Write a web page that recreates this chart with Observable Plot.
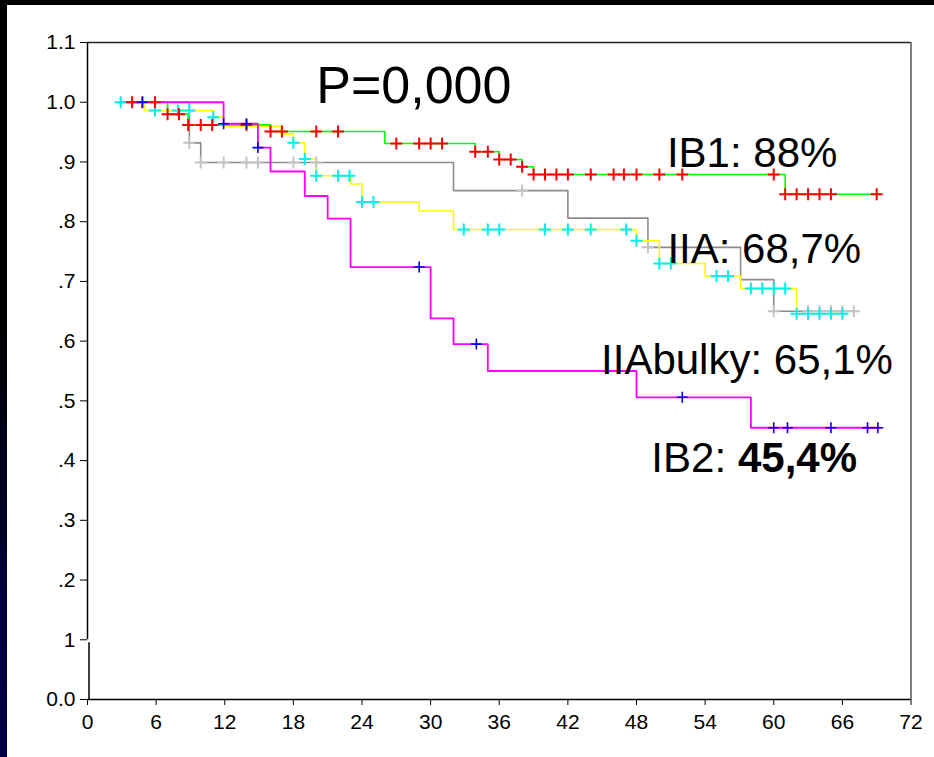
<!DOCTYPE html>
<html>
<head>
<meta charset="utf-8">
<script src="https://cdn.jsdelivr.net/npm/d3@7"></script>
<script src="https://cdn.jsdelivr.net/npm/@observablehq/plot@0.6"></script>
<style>
  html, body { margin: 0; padding: 0; background: #fff; }
  #wrap { position: relative; width: 934px; height: 757px; overflow: hidden; background: #fff; }
  #chart { position: absolute; left: 0; top: 0; }
  #topbar { position: absolute; left: 0; top: 0; width: 934px; height: 5px; background: #000; }
  #leftbar { position: absolute; left: 0; top: 0; width: 7px; height: 757px;
    background: linear-gradient(to bottom, #000 0%, #000 42%, #00003c 80%, #000048 100%); }
</style>
</head>
<body>
<div id="wrap"><div id="chart"></div><div id="topbar"></div><div id="leftbar"></div></div>
<script>
// ---- axis ticks ----
const xTicks = [0, 6, 12, 18, 24, 30, 36, 42, 48, 54, 60, 66, 72];
const yTicks = [0, 0.1, 0.2, 0.3, 0.4, 0.5, 0.6, 0.7, 0.8, 0.9, 1.0, 1.1];
const yTickLabels = ["0.0", "1", ".2", ".3", ".4", ".5", ".6", ".7", ".8", ".9", "1.0", "1.1"];

// ---- IB1 (green line, red censor marks) ----
const ib1Times = [2.8, 7, 8.8, 16, 26, 33.9, 36, 38, 39, 61, 69.2];
const ib1Surv  = [1.0, 0.980, 0.962, 0.951, 0.931, 0.917, 0.904, 0.892, 0.879, 0.846, 0.846];
const ib1Censor = [3.9, 4.8, 5.9, 7, 8, 8.8, 9.9, 10.9, 13.9, 16, 17, 20, 21.9, 27, 29, 30, 31,
  33.9, 35, 36, 37, 38, 39, 40, 41, 42, 44, 46, 46.9, 48, 50, 52, 60, 61, 62, 63, 64, 65, 69];

// ---- gray line, light gray censor marks ----
const grayTimes = [2.8, 8.9, 9.9, 32, 42, 49, 57.1, 60, 67];
const graySurv  = [1.0, 0.932, 0.899, 0.852, 0.806, 0.757, 0.703, 0.650, 0.650];
const grayCensor = [8.9, 9.9, 11.9, 13.9, 14.9, 18, 20, 38, 49, 60, 63, 64, 65, 66, 67];

// ---- yellow line, cyan censor marks ----
const yellowTimes = [2.8, 5, 11, 11.9, 16.9, 18, 19, 20, 23, 24, 29, 32, 48, 50, 54, 57.1, 62, 66];
const yellowSurv  = [1.0, 0.986, 0.975, 0.960, 0.947, 0.932, 0.905, 0.877, 0.863, 0.833, 0.818,
  0.787, 0.768, 0.730, 0.709, 0.688, 0.646, 0.646];
const yellowCensor = [2.9, 5.9, 7.9, 8.9, 11, 18, 19, 20, 21.9, 22.9, 24, 25, 32.9, 35, 36, 40, 42,
  44, 47.1, 48, 50, 51, 55, 56, 58, 59, 60, 61, 62, 63, 64, 65, 66];

// ---- IB2 (magenta line, blue censor marks) ----
const ib2Times = [2.8, 11.9, 14.9, 16, 19, 21, 23, 30, 32, 35, 48, 58, 69.3];
const ib2Surv  = [1.0, 0.964, 0.924, 0.884, 0.843, 0.805, 0.724, 0.638, 0.595, 0.550, 0.506, 0.455, 0.455];
const ib2Censor = [4.8, 11.9, 13.9, 14.9, 29, 34, 52, 60, 61.2, 65, 68.2, 69.1];

// ---- annotation texts ----
const pText = "P=0,000";
const labelIB1 = "IB1: 88%";
const labelIIA = "IIA: 68,7%";
const labelBulky = "IIAbulky: 65,1%";
const labelIB2a = "IB2: ";
const labelIB2b = "45,4%";

// helpers
const zip = (t, s) => t.map((x, i) => ({t: x, s: s[i]}));
function survAt(times, surv, t) {
  let s = surv[0];
  for (let i = 0; i < times.length; i++) if (times[i] <= t + 1e-9) s = surv[i];
  return s;
}
const censorPts = (c, times, surv) => c.map(t => ({t, s: survAt(times, surv, t)}));

const cross = {
  draw(ctx, size) {
    const h = Math.sqrt(size / Math.PI);
    ctx.moveTo(-h, 0); ctx.lineTo(h, 0);
    ctx.moveTo(0, -h); ctx.lineTo(0, h);
  }
};

const yLabelMap = new Map(yTicks.map((v, i) => [Math.round(v * 10), yTickLabels[i]]));
const font = "Liberation Sans, Arial, Helvetica, sans-serif";

const lineOpts = (color, w) => ({x: "t", y: "s", curve: "step-after", stroke: color, strokeWidth: w});
const markOpts = (color, r, w) => ({x: "t", y: "s", symbol: cross, r, stroke: color, strokeWidth: w, fill: "none"});

const chart = Plot.plot({
  width: 934,
  height: 757,
  marginLeft: 87,
  marginRight: 23.5,
  marginTop: 42,
  marginBottom: 58,
  style: {fontFamily: font, fontSize: "21px", background: "transparent", color: "#000", overflow: "visible"},
  x: {domain: [0, 72], label: null},
  y: {domain: [0, 1.1], label: null},
  marks: [
    Plot.axisX({ticks: xTicks, tickSize: 6, tickPadding: 9, label: null, fontSize: 21,
      tickFormat: d => String(d), stroke: "#000", fill: "#000"}),
    Plot.axisY({ticks: yTicks, tickSize: 7, tickPadding: 5, label: null, fontSize: 21,
      tickFormat: d => yLabelMap.get(Math.round(d * 10)), stroke: "#000", fill: "#000"}),
    // frame
    Plot.ruleY([1.1], {stroke: "#222", strokeWidth: 1.5}),
    Plot.ruleX([72], {stroke: "#555", strokeWidth: 1.5}),
    Plot.ruleY([0], {stroke: "#000", strokeWidth: 1.5}),
    Plot.ruleX([0], {y1: 0.1, y2: 1.1, stroke: "#000", strokeWidth: 1.5}),
    Plot.ruleX([0], {y1: 0, y2: 0.095, dx: 1.5, stroke: "#000", strokeWidth: 1.5}),
    // survival lines
    Plot.line(zip(grayTimes, graySurv), lineOpts("#8c8c8c", 1.6)),
    Plot.line(zip(yellowTimes, yellowSurv), lineOpts("#ffff00", 1.6)),
    Plot.line(zip(ib1Times, ib1Surv), lineOpts("#00ff00", 1.6)),
    Plot.line(zip(ib2Times, ib2Surv), lineOpts("#ff00ff", 1.8)),
    // censor marks
    Plot.dot(censorPts(grayCensor, grayTimes, graySurv), markOpts("#c4c4c4", 6, 2)),
    Plot.dot(censorPts(yellowCensor, yellowTimes, yellowSurv), markOpts("#00f0f0", 6, 2)),
    Plot.dot(censorPts(ib1Censor, ib1Times, ib1Surv), markOpts("#ff0000", 6, 2)),
    Plot.dot(censorPts(ib2Censor, ib2Times, ib2Surv), markOpts("#0000ff", 5.5, 1.6)),
    // annotations
    Plot.text([pText], {x: 20.0, y: 1.027, text: d => d, textAnchor: "start", lineAnchor: "middle",
      fontSize: 52, fill: "#000", fontFamily: font}),
    Plot.text([labelIB1], {x: 50.66, y: 0.9148, text: d => d, textAnchor: "start", lineAnchor: "middle",
      fontSize: 42, fill: "#000", fontFamily: font}),
    Plot.text([labelIIA], {x: 50.7, y: 0.754, text: d => d, textAnchor: "start", lineAnchor: "middle",
      fontSize: 42, fill: "#000", fontFamily: font}),
    Plot.text([labelBulky], {x: 44.9, y: 0.568, text: d => d, textAnchor: "start", lineAnchor: "middle",
      fontSize: 42, fill: "#000", fontFamily: font}),
    Plot.text([labelIB2a], {x: 49.3, y: 0.404, text: d => d, textAnchor: "start", lineAnchor: "middle",
      fontSize: 42, fill: "#000", fontFamily: font}),
    Plot.text([labelIB2b], {x: 56.87, y: 0.404, text: d => d, textAnchor: "start", lineAnchor: "middle",
      fontSize: 42, fontWeight: "bold", fill: "#000", fontFamily: font})
  ]
});
document.getElementById("chart").appendChild(chart);
</script>
</body>
</html>
